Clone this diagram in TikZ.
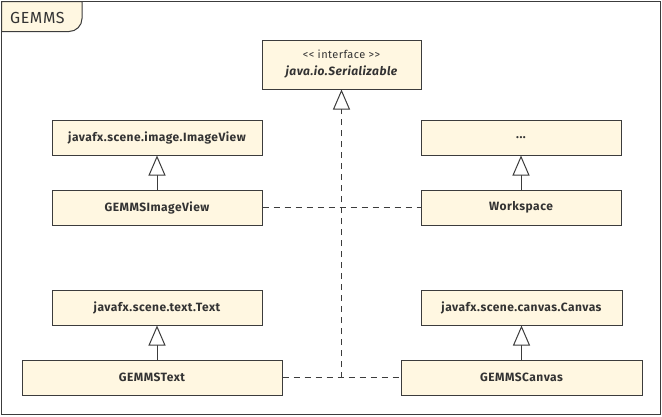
\documentclass[tikz,border=0pt]{standalone}
\usepackage{fontspec}
\setmainfont{Fira Sans}[LetterSpace=4]
\usetikzlibrary{arrows.meta}
\definecolor{cream}{HTML}{FFF7E1}
\definecolor{edge}{HTML}{3C3C3C}
\definecolor{ink}{HTML}{333333}
\tikzset{
  cls/.style={draw=edge, fill=cream, line width=1pt, inner sep=0pt, text=ink, font=\fontsize{12}{17}\selectfont\bfseries, align=center},
  inh/.style={draw=edge, line width=1pt, -{Triangle[open, length=20pt, width=17pt, fill=white]}},
  real/.style={draw=edge, line width=1pt, dash pattern=on 6pt off 5pt},
}
\begin{document}
\begin{tikzpicture}[x=1pt, y=-1pt]
\useasboundingbox (0,0) rectangle (662,416);
% frame
\draw[edge, line width=1pt] (1.5,1.5) rectangle (660.5,414.5);
\draw[edge, fill=cream, line width=1pt] (1.5,1.5) -- (82,1.5) [rounded corners=13pt] -- (82,31.5) [sharp corners] -- (1.5,31.5) -- cycle;
\node[text=ink, font=\fontsize{16}{18}\selectfont, anchor=base west] (title) at (6.5,23.5) {GEMMS};
% classes
\node[cls, minimum width=159pt, minimum height=49pt] (ser) at (341.5,64.5) {{\mdseries\fontsize{11}{17}\selectfont <{}< interface >{}>}\\\itshape java.io.Serializable};
\node[cls, minimum width=210pt, minimum height=35pt] (iv) at (157,137.5) {javafx.scene.image.ImageView};
\node[cls, minimum width=210pt, minimum height=35pt] (giv) at (157,207.5) {GEMMSImageView};
\node[cls, minimum width=200pt, minimum height=35pt] (dots) at (521,137.5) {...};
\node[cls, minimum width=200pt, minimum height=35pt] (ws) at (521,207.5) {Workspace};
\node[cls, minimum width=210pt, minimum height=35pt] (txt) at (157,307.5) {javafx.scene.text.Text};
\node[cls, minimum width=260pt, minimum height=35pt] (gtxt) at (152,377.5) {GEMMSText};
\node[cls, minimum width=201pt, minimum height=35pt] (cv) at (521.5,307.5) {javafx.scene.canvas.Canvas};
\node[cls, minimum width=241pt, minimum height=35pt] (gcv) at (521.5,377.5) {GEMMSCanvas};
% inheritance
\draw[inh] (giv.north -| iv.south) -- (iv.south);
\draw[inh] (ws.north -| dots.south) -- (dots.south);
\draw[inh] (gtxt.north -| txt.south) -- (txt.south);
\draw[inh] (gcv.north -| cv.south) -- (cv.south);
% realization
\coordinate (j) at (341.5,378);
\coordinate (tb) at (341.5,109);
\draw[real] (giv.east) -- (ws.west);
\draw[real] (gtxt.east) -- (gcv.west);
\draw[real] (j) -- (tb);
\draw[inh] (tb) -- (ser.south);
\end{tikzpicture}
\end{document}
